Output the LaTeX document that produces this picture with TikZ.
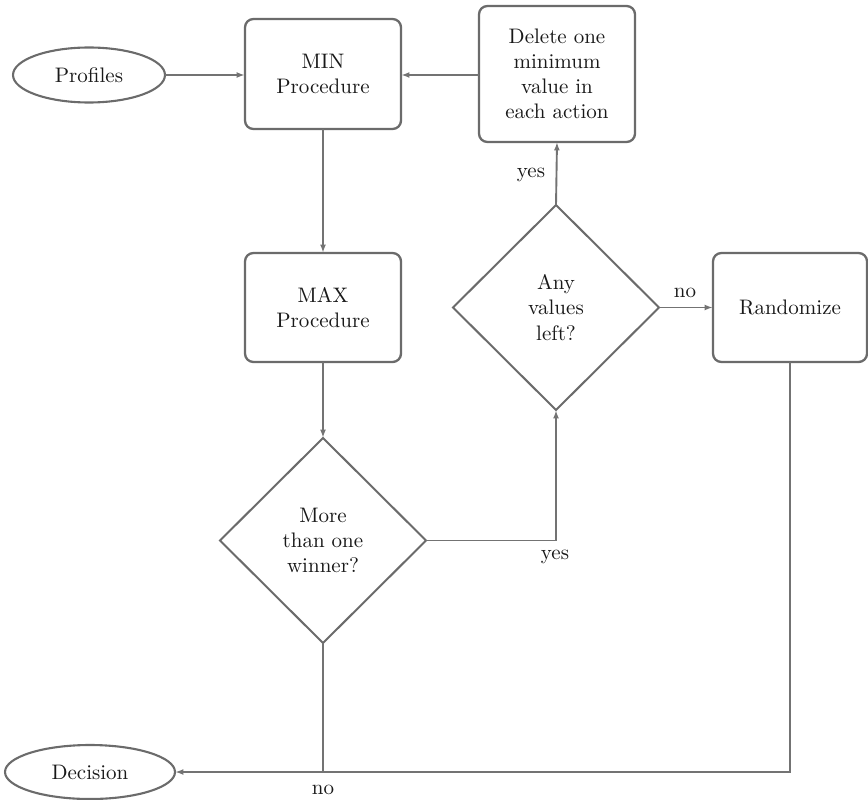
\documentclass[tikz,border=0pt]{standalone}
\usetikzlibrary{shapes.geometric,arrows.meta}
\begin{document}
\begin{tikzpicture}[x=0.476pt,y=-0.476pt,
  every node/.style={text=black!90, inner sep=0pt, outer sep=0pt},
  shapeline/.style={draw=black!58, line width=1.1pt, fill=white},
  procbox/.style={shapeline, rectangle, rounded corners=4pt, align=center},
  decide/.style={shapeline, line width=0.95pt, diamond, align=center, minimum width=206*0.476pt, minimum height=205*0.476pt},
  term/.style={shapeline, line width=1pt, ellipse},
  conn/.style={draw=black!55, line width=0.9pt},
  arr/.style={conn, -{Latex[length=4pt,width=2.8pt]}},
  lbl/.style={text=black!90}]
\useasboundingbox (0,0) rectangle (868,799);

\node[term, minimum width=152*0.476pt, minimum height=55*0.476pt] (prof) at (89,75) {Profiles};
\node[procbox, minimum width=156*0.476pt, minimum height=110*0.476pt] (min) at (323,74) {MIN\\Procedure};
\node[procbox, minimum width=156*0.476pt, minimum height=136*0.476pt] (del) at (557,74) {Delete one\\minimum\\value in\\each action};
\node[procbox, minimum width=156*0.476pt, minimum height=109*0.476pt] (max) at (323,307.5) {MAX\\Procedure};
\node[decide] (any) at (556,307.5) {Any\\values\\left?};
\node[procbox, minimum width=154*0.476pt, minimum height=109*0.476pt] (rand) at (790,307.5) {Randomize};
\node[decide] (more) at (323,540.5) {More\\than one\\winner?};
\node[term, minimum width=170*0.476pt, minimum height=54*0.476pt] (dec) at (90,772) {Decision};

\coordinate (c1) at (more.east -| any.south);
\coordinate (j) at (more.south |- dec.east);

\draw[arr] (prof.east) -- (prof.east -| min.west);
\draw[arr] (del.west |- prof.east) -- (min.east |- prof.east);
\draw[arr] (min.south) -- (max.north);
\draw[arr] (max.south) -- (more.north);
\draw[arr] (more.east) -- (c1) -- (any.south);
\draw[arr] (any.north) -- (del.south);
\draw[arr] (any.east) -- (rand.west);
\draw[conn] (more.south) -- (j);
\draw[arr] (rand.south) |- (dec.east);

\node[lbl] (yes1) at (531,175) {yes};
\node[lbl] (no1) at (685,293) {no};
\node[lbl] (yes2) at (555,557) {yes};
\node[lbl] (no2) at (323,790) {no};
\end{tikzpicture}
\end{document}
